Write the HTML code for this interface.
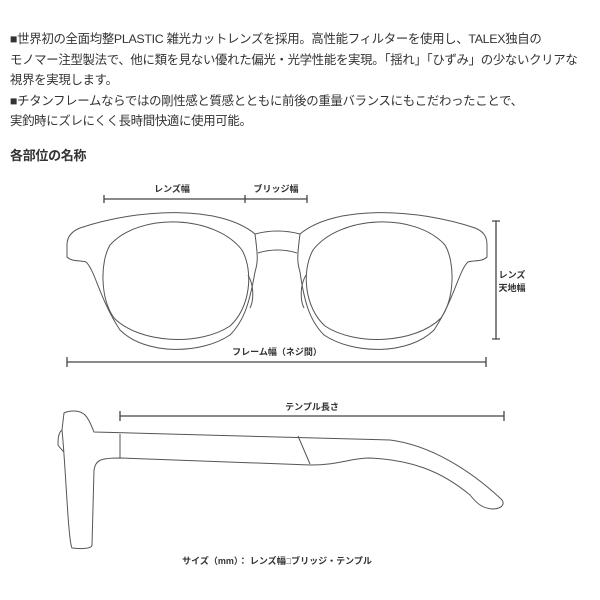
<!DOCTYPE html>
<html><head><meta charset="utf-8"><style>
body{margin:0;background:#fff;width:600px;height:600px;overflow:hidden;font-family:"Liberation Sans","Noto Sans CJK JP",sans-serif;color:#333}
.t{position:absolute;left:10px;font-size:12.4px;white-space:nowrap;letter-spacing:-0.3px}
</style></head><body>
<div class="t" style="top:29px">■世界初の全面均整PLASTIC 雑光カットレンズを採用。高性能フィルターを使用し、TALEX独自の</div>
<div class="t" style="top:50px">モノマー注型製法で、他に類を見ない優れた偏光・光学性能を実現。「揺れ」「ひずみ」の少ないクリアな</div>
<div class="t" style="top:70px">視界を実現します。</div>
<div class="t" style="top:91px">■チタンフレームならではの剛性感と質感とともに前後の重量バランスにもこだわったことで、</div>
<div class="t" style="top:111px">実釣時にズレにくく長時間快適に使用可能。</div>
<div class="t" style="top:145px;font-weight:bold;font-size:13px">各部位の名称</div>
<svg width="600" height="600" style="position:absolute;left:0;top:0" font-family="Liberation Sans,Noto Sans CJK JP,sans-serif" font-size="9" font-weight="bold" fill="#333">
<g stroke="#444" stroke-width="1.3" fill="none">
<path d="M104,195V203M104,199H245M245,195V203M245,199H307M307,195V203"/>
<path d="M492,221H500M496,221V339M492,339H500"/>
<path d="M67,357V367M67,362H486M486,357V367"/>
<path d="M120,411V421M120,416H504M504,411V421"/>
</g>
<text x="172" y="192" text-anchor="middle">レンズ幅</text>
<text x="276" y="192" text-anchor="middle">ブリッジ幅</text>
<text x="512" y="278" text-anchor="middle">レンズ</text>
<text x="512" y="291" text-anchor="middle">天地幅</text>
<text x="277" y="355" text-anchor="middle">フレーム幅（ネジ間）</text>
<text x="312" y="410" text-anchor="middle">テンプル長さ</text>
<text x="277" y="564" text-anchor="middle">サイズ（mm）： レンズ幅□ブリッジ・テンプル</text>
<g stroke="#555" stroke-width="1" fill="none">
<path d="M255,234 C220,205 140,208 80,228 C70,232 67,238 67,245 L67,257 C72,262 80,260 86,262 C95,270 100,300 120,330 C145,355 200,355 230,335 C245,320 250,300 255,272 C258,262 258,257 255,234 Z"/>
<path d="M300,234 C335,205 415,208 475,228 C485,232 487,238 487,245 L487,257 C482,262 474,260 468,262 C459,270 454,300 434,330 C409,355 354,355 324,335 C309,320 304,300 300,272 C297,262 297,257 300,234 Z"/>
<path d="M110,245 C140,212 215,215 242,250 C254,272 250,308 230,326 C200,346 140,344 114,318 C100,298 100,262 110,245 Z"/>
<path d="M445,245 C415,212 340,215 313,250 C301,272 305,308 325,326 C355,346 415,344 441,318 C455,298 455,262 445,245 Z"/>
<path d="M255,234 C270,230 285,230 300,234 M258,253 C270,249 285,249 297,253"/>
<path d="M248,275 C254,285 254,300 250,308 M306,275 C300,285 300,300 304,308"/>
<path d="M64,413 C70,410 80,410 85,415 C90,420 92,428 94,432 L390,440 C430,445 470,470 500,498 C506,503 503,509 492,509 C483,508 478,505 470,495 C440,470 410,460 370,458 C350,458 340,465 310,465 L120,458 C100,458 96,460 94,470 L92,545 C92,549 80,549 72,548 C68,540 66,470 62,430 Z"/>
<path d="M62,430 C58,433 58,440 58,445 C60,448 62,450 64,452"/>
<path d="M120,434 L120,458 M298,436 L310,464"/>
</g>
</svg>
</body></html>
